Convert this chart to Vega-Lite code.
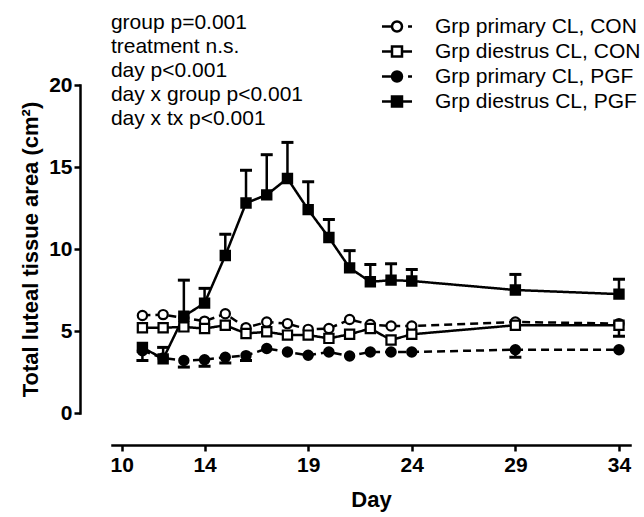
{
  "$schema": "https://vega.github.io/schema/vega-lite/v6.json",
  "width": 518,
  "height": 328,
  "autosize": {"type": "none"},
  "padding": {"left": 112, "top": 85, "right": 14, "bottom": 104},
  "background": "white",
  "config": {
    "font": "Liberation Sans",
    "view": {"stroke": null},
    "axis": {"domainColor": "black", "tickColor": "black", "labelColor": "black", "titleColor": "black", "labelFont": "Liberation Sans", "titleFont": "Liberation Sans", "grid": false, "domainCap": "square"},
    "legend": {"orient": "none", "legendX": 273, "legendY": -70.5, "padding": 0, "labelFontSize": 21, "labelColor": "black", "labelFont": "Liberation Sans", "labelOffset": 26, "labelLimit": 400, "symbolSize": 441, "symbolStrokeWidth": 2.5, "symbolStrokeColor": "black", "symbolOpacity": 1, "rowPadding": 3}
  },
  "datasets": {
    "means": [
      {"group": "Grp primary CL, CON", "day": 11, "area": 5.95},
      {"group": "Grp primary CL, CON", "day": 12, "area": 6.0},
      {"group": "Grp primary CL, CON", "day": 13, "area": 5.8},
      {"group": "Grp primary CL, CON", "day": 14, "area": 5.6},
      {"group": "Grp primary CL, CON", "day": 15, "area": 6.05},
      {"group": "Grp primary CL, CON", "day": 16, "area": 5.2},
      {"group": "Grp primary CL, CON", "day": 17, "area": 5.55},
      {"group": "Grp primary CL, CON", "day": 18, "area": 5.45},
      {"group": "Grp primary CL, CON", "day": 19, "area": 5.1},
      {"group": "Grp primary CL, CON", "day": 20, "area": 5.15},
      {"group": "Grp primary CL, CON", "day": 21, "area": 5.7},
      {"group": "Grp primary CL, CON", "day": 22, "area": 5.4},
      {"group": "Grp primary CL, CON", "day": 23, "area": 5.3},
      {"group": "Grp primary CL, CON", "day": 24, "area": 5.3},
      {"group": "Grp primary CL, CON", "day": 29, "area": 5.55},
      {"group": "Grp primary CL, CON", "day": 34, "area": 5.45},
      {"group": "Grp diestrus CL, CON", "day": 11, "area": 5.2},
      {"group": "Grp diestrus CL, CON", "day": 12, "area": 5.2},
      {"group": "Grp diestrus CL, CON", "day": 13, "area": 5.25},
      {"group": "Grp diestrus CL, CON", "day": 14, "area": 5.15},
      {"group": "Grp diestrus CL, CON", "day": 15, "area": 5.35},
      {"group": "Grp diestrus CL, CON", "day": 16, "area": 4.85},
      {"group": "Grp diestrus CL, CON", "day": 17, "area": 4.95},
      {"group": "Grp diestrus CL, CON", "day": 18, "area": 4.75},
      {"group": "Grp diestrus CL, CON", "day": 19, "area": 4.75},
      {"group": "Grp diestrus CL, CON", "day": 20, "area": 4.55},
      {"group": "Grp diestrus CL, CON", "day": 21, "area": 4.8},
      {"group": "Grp diestrus CL, CON", "day": 22, "area": 5.15},
      {"group": "Grp diestrus CL, CON", "day": 23, "area": 4.45},
      {"group": "Grp diestrus CL, CON", "day": 24, "area": 4.8},
      {"group": "Grp diestrus CL, CON", "day": 29, "area": 5.35},
      {"group": "Grp diestrus CL, CON", "day": 34, "area": 5.35},
      {"group": "Grp primary CL, PGF", "day": 11, "area": 3.8},
      {"group": "Grp primary CL, PGF", "day": 12, "area": 3.35},
      {"group": "Grp primary CL, PGF", "day": 13, "area": 3.2},
      {"group": "Grp primary CL, PGF", "day": 14, "area": 3.25},
      {"group": "Grp primary CL, PGF", "day": 15, "area": 3.4},
      {"group": "Grp primary CL, PGF", "day": 16, "area": 3.5},
      {"group": "Grp primary CL, PGF", "day": 17, "area": 3.93},
      {"group": "Grp primary CL, PGF", "day": 18, "area": 3.72},
      {"group": "Grp primary CL, PGF", "day": 19, "area": 3.52},
      {"group": "Grp primary CL, PGF", "day": 20, "area": 3.72},
      {"group": "Grp primary CL, PGF", "day": 21, "area": 3.48},
      {"group": "Grp primary CL, PGF", "day": 22, "area": 3.72},
      {"group": "Grp primary CL, PGF", "day": 23, "area": 3.72},
      {"group": "Grp primary CL, PGF", "day": 24, "area": 3.72},
      {"group": "Grp primary CL, PGF", "day": 29, "area": 3.86},
      {"group": "Grp primary CL, PGF", "day": 34, "area": 3.86},
      {"group": "Grp diestrus CL, PGF", "day": 11, "area": 4.0},
      {"group": "Grp diestrus CL, PGF", "day": 12, "area": 3.3},
      {"group": "Grp diestrus CL, PGF", "day": 13, "area": 5.9},
      {"group": "Grp diestrus CL, PGF", "day": 14, "area": 6.7},
      {"group": "Grp diestrus CL, PGF", "day": 15, "area": 9.6},
      {"group": "Grp diestrus CL, PGF", "day": 16, "area": 12.8},
      {"group": "Grp diestrus CL, PGF", "day": 17, "area": 13.3},
      {"group": "Grp diestrus CL, PGF", "day": 18, "area": 14.3},
      {"group": "Grp diestrus CL, PGF", "day": 19, "area": 12.4},
      {"group": "Grp diestrus CL, PGF", "day": 20, "area": 10.7},
      {"group": "Grp diestrus CL, PGF", "day": 21, "area": 8.85},
      {"group": "Grp diestrus CL, PGF", "day": 22, "area": 8.0},
      {"group": "Grp diestrus CL, PGF", "day": 23, "area": 8.1},
      {"group": "Grp diestrus CL, PGF", "day": 24, "area": 8.05},
      {"group": "Grp diestrus CL, PGF", "day": 29, "area": 7.5},
      {"group": "Grp diestrus CL, PGF", "day": 34, "area": 7.25}
    ],
    "errors": [
      {"group": "Grp diestrus CL, CON", "day": 34, "area": 5.35, "bar": 4.68},
      {"group": "Grp primary CL, PGF", "day": 13, "area": 3.2, "bar": 2.8},
      {"group": "Grp primary CL, PGF", "day": 14, "area": 3.25, "bar": 2.85},
      {"group": "Grp primary CL, PGF", "day": 15, "area": 3.4, "bar": 3.05},
      {"group": "Grp primary CL, PGF", "day": 16, "area": 3.5, "bar": 3.2},
      {"group": "Grp primary CL, PGF", "day": 29, "area": 3.86, "bar": 3.4},
      {"group": "Grp diestrus CL, PGF", "day": 11, "area": 4.0, "bar": 3.2},
      {"group": "Grp diestrus CL, PGF", "day": 12, "area": 3.3, "bar": 4.0},
      {"group": "Grp diestrus CL, PGF", "day": 13, "area": 5.9, "bar": 8.1},
      {"group": "Grp diestrus CL, PGF", "day": 14, "area": 6.7, "bar": 7.6},
      {"group": "Grp diestrus CL, PGF", "day": 15, "area": 9.6, "bar": 10.9},
      {"group": "Grp diestrus CL, PGF", "day": 16, "area": 12.8, "bar": 14.8},
      {"group": "Grp diestrus CL, PGF", "day": 17, "area": 13.3, "bar": 15.75},
      {"group": "Grp diestrus CL, PGF", "day": 18, "area": 14.3, "bar": 16.5},
      {"group": "Grp diestrus CL, PGF", "day": 19, "area": 12.4, "bar": 14.1},
      {"group": "Grp diestrus CL, PGF", "day": 20, "area": 10.7, "bar": 11.8},
      {"group": "Grp diestrus CL, PGF", "day": 21, "area": 8.85, "bar": 9.9},
      {"group": "Grp diestrus CL, PGF", "day": 22, "area": 8.0, "bar": 9.05},
      {"group": "Grp diestrus CL, PGF", "day": 23, "area": 8.1, "bar": 9.1},
      {"group": "Grp diestrus CL, PGF", "day": 24, "area": 8.05, "bar": 8.75},
      {"group": "Grp diestrus CL, PGF", "day": 29, "area": 7.5, "bar": 8.45},
      {"group": "Grp diestrus CL, PGF", "day": 34, "area": 7.25, "bar": 8.15}
    ]
  },
  "layer": [
    {
      "data": {"name": "means"},
      "mark": {"type": "line", "color": "black", "strokeWidth": 2.5},
      "encoding": {
        "x": {
          "field": "day", "type": "quantitative",
          "scale": {"domain": [9.532, 34.532], "nice": false, "zero": false},
          "axis": {
            "values": [10, 14, 19, 24, 29, 34], "offset": 32, "domainWidth": 2.5, "tickWidth": 2.5, "tickSize": 6,
            "labelFontSize": 21, "labelFontWeight": "bold", "labelPadding": 3, "labelFlush": false,
            "title": "Day", "titleFontSize": 22, "titleFontWeight": "bold", "titlePadding": 14
          }
        },
        "y": {
          "field": "area", "type": "quantitative",
          "scale": {"domain": [0, 20], "nice": false, "zero": false},
          "axis": {
            "values": [0, 5, 10, 15, 20], "offset": 32, "domainWidth": 2.5, "tickWidth": 2.5, "tickSize": 6,
            "labelFontSize": 21, "labelFontWeight": "bold", "labelPadding": 2, "labelFlush": false,
            "title": "Total luteal tissue area (cm²)", "titleFontSize": 22, "titleFontWeight": "bold", "titlePadding": 6
          }
        },
        "detail": {"field": "group", "type": "nominal"},
        "strokeDash": {"condition": {"test": "datum.group == 'Grp primary CL, CON' || datum.group == 'Grp primary CL, PGF'", "value": [8, 5]}, "value": [1, 0]},
        "order": {"field": "day", "type": "quantitative"}
      }
    },
    {
      "data": {"name": "errors"},
      "mark": {"type": "rule", "color": "black", "strokeWidth": 2.5},
      "encoding": {
        "x": {"field": "day", "type": "quantitative", "scale": {"domain": [9.532, 34.532], "nice": false, "zero": false}},
        "y": {"field": "area", "type": "quantitative", "scale": {"domain": [0, 20], "nice": false, "zero": false}},
        "y2": {"field": "bar"}
      }
    },
    {
      "data": {"name": "errors"},
      "mark": {"type": "tick", "orient": "horizontal", "color": "black", "size": 12, "thickness": 3, "opacity": 1},
      "encoding": {
        "x": {"field": "day", "type": "quantitative", "scale": {"domain": [9.532, 34.532], "nice": false, "zero": false}},
        "y": {"field": "bar", "type": "quantitative", "scale": {"domain": [0, 20], "nice": false, "zero": false}}
      }
    },
    {
      "data": {"name": "means"},
      "mark": {"type": "point", "filled": true, "stroke": "black", "strokeWidth": 2.2, "size": 85, "opacity": 1},
      "encoding": {
        "x": {"field": "day", "type": "quantitative", "scale": {"domain": [9.532, 34.532], "nice": false, "zero": false}},
        "y": {"field": "area", "type": "quantitative", "scale": {"domain": [0, 20], "nice": false, "zero": false}},
        "fill": {"condition": {"test": "datum.group == 'Grp primary CL, PGF' || datum.group == 'Grp diestrus CL, PGF'", "value": "black"}, "value": "white"},
        "shape": {"condition": {"test": "datum.group == 'Grp primary CL, CON' || datum.group == 'Grp primary CL, PGF'", "value": "circle"}, "value": "square"}
      }
    },
    {
      "data": {"name": "means"},
      "transform": [{"filter": "datum.day > 100"}],
      "mark": {"type": "point", "filled": true, "stroke": "black", "strokeWidth": 2.5, "opacity": 1},
      "encoding": {
        "x": {"field": "day", "type": "quantitative", "scale": {"domain": [9.532, 34.532], "nice": false, "zero": false}},
        "y": {"field": "area", "type": "quantitative", "scale": {"domain": [0, 20], "nice": false, "zero": false}},
        "fill": {
          "field": "group", "type": "nominal",
          "scale": {"domain": ["Grp primary CL, CON", "Grp diestrus CL, CON", "Grp primary CL, PGF", "Grp diestrus CL, PGF"], "range": ["white", "white", "black", "black"]},
          "legend": {"title": null, "encode": {"symbols": {"update": {"stroke": {"value": "black"}, "strokeWidth": {"value": 2.5}}}}}
        },
        "shape": {
          "field": "group", "type": "nominal",
          "scale": {
            "domain": ["Grp primary CL, CON", "Grp diestrus CL, CON", "Grp primary CL, PGF", "Grp diestrus CL, PGF"],
            "range": [
              "M-1.43,0H-0.48M1.05,0H1.43M-0.476,0A0.476,0.476 0 1,1 0.476,0A0.476,0.476 0 1,1 -0.476,0Z",
              "M-1.43,0H-0.476M0.476,0H1.43M-0.476,-0.476H0.476V0.476H-0.476Z",
              "M-1.43,0H-0.48M1.05,0H1.43M-0.476,0A0.476,0.476 0 1,1 0.476,0A0.476,0.476 0 1,1 -0.476,0Z",
              "M-1.43,0H-0.476M0.476,0H1.43M-0.476,-0.476H0.476V0.476H-0.476Z"
            ]
          },
          "legend": {"title": null, "encode": {"symbols": {"update": {"stroke": {"value": "black"}, "strokeWidth": {"value": 2.5}}}}}
        }
      }
    },
    {
      "data": {"values": [{}]},
      "mark": {
        "type": "text", "align": "left", "baseline": "top", "fontSize": 21, "lineHeight": 24,
        "font": "Liberation Sans", "color": "black",
        "text": ["group p=0.001", "treatment n.s.", "day p<0.001", "day x group p<0.001", "day x tx p<0.001"]
      },
      "encoding": {
        "x": {"datum": 9.48, "type": "quantitative", "scale": {"domain": [9.532, 34.532], "nice": false, "zero": false}},
        "y": {"datum": 24.48, "type": "quantitative", "scale": {"domain": [0, 20], "nice": false, "zero": false}}
      }
    }
  ]
}
